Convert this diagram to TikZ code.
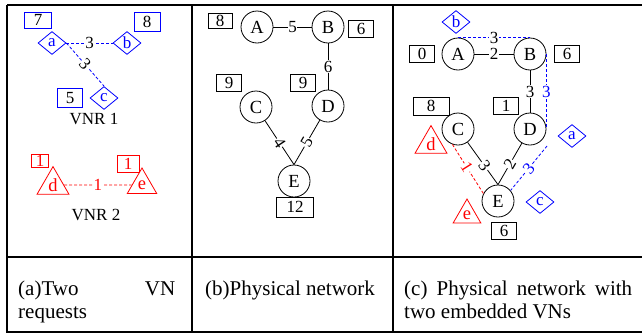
\documentclass[tikz,border=0pt]{standalone}
\usepackage{fontspec}
\setmainfont{Liberation Serif}
\usetikzlibrary{shapes.geometric}
\begin{document}
\begin{tikzpicture}[x=1pt,y=-1pt,
  nf/.style={font=\fontsize{17}{19}\selectfont},
  bf/.style={font=\fontsize{18.5}{20}\selectfont},
  tbl/.style={line width=2.2pt},
  numbox/.style={draw,rectangle,minimum width=25pt,minimum height=17pt,inner sep=1pt,line width=0.8pt,nf},
  pnode/.style={draw,circle,minimum size=32pt,inner sep=0pt,line width=0.8pt,bf},
  vdia/.style={draw=blue,text=blue,diamond,minimum width=28pt,minimum height=23pt,inner sep=0pt,line width=0.8pt,nf},
  vtri/.style={draw=red,text=red,regular polygon,regular polygon sides=3,minimum size=34pt,inner sep=0pt,line width=0.8pt,bf},
  plink/.style={line width=0.8pt},
  blink/.style={draw=blue,line width=0.8pt,dash pattern=on 3pt off 2pt},
  rlink/.style={draw=red,line width=0.8pt,dash pattern=on 3pt off 2pt},
  lbl/.style={fill=white,inner sep=0.6pt,nf},
  captxt/.style={font=\fontsize{21}{23}\selectfont,inner sep=0pt,anchor=north west,align=justify}
]
\useasboundingbox (0,0) rectangle (642,335);
% table
\draw[tbl] (7,5) -- (645,5);
\draw[tbl] (645,332) -- (7,332) -- (7,5);
\draw[tbl] (7,257) -- (645,257);
\draw[tbl] (192,5) -- (192,332);
\draw[tbl] (393,5) -- (393,332);

% panel (a)
\node[numbox,draw=blue,minimum width=27pt,minimum height=16pt] (n7) at (38,20) {7};
\node[vdia] (va) at (52,43) {a};
\node[numbox,draw=blue,minimum width=26pt,minimum height=19pt] (n8a) at (147,22) {8};
\node[vdia] (vb) at (127,43) {b};
\node[vdia] (vc) at (104,98) {c};
\node[numbox,draw=blue,minimum height=19pt] (n5) at (70,98) {5};
\node[nf] (vnr1) at (94,119) {VNR 1};
\node[numbox,draw=red,text=red,minimum width=17pt,minimum height=13pt] (r1) at (40,161) {1};
\node[numbox,draw=red,text=red,minimum width=22pt,minimum height=17pt] (r2) at (128,164) {1};
\node[vtri] (vd) at (53,185) {d};
\node[vtri] (ve) at (142,185) {e};
\node[nf] (vnr2) at (96,215) {VNR 2};
\draw[blink] (va) -- node[lbl]{3} (vb);
\draw[blink] (va.east) -- node[lbl,sloped]{3} (vc.north);
\draw[rlink] (vd) -- node[lbl,text=red]{1} (ve);

% panel (b)
\node[numbox,minimum width=24pt,minimum height=15pt] (b8) at (220,21) {8};
\node[pnode] (pA) at (257,27) {A};
\node[pnode] (pB) at (328,27) {B};
\node[numbox] (b6) at (361,29) {6};
\node[numbox] (b9l) at (229,83) {9};
\node[numbox] (b9r) at (303,83) {9};
\node[pnode] (pC) at (256,107) {C};
\node[pnode] (pD) at (328,106) {D};
\node[pnode] (pE) at (294,181) {E};
\node[numbox,minimum width=37pt,minimum height=20pt] (b12) at (295,207) {12};
\draw[plink] (pA) -- node[lbl]{5} (pB);
\draw[plink] (pB) -- node[lbl]{6} (pD);
\draw[plink] (pC) -- node[lbl,sloped]{4} (pE.north);
\draw[plink] (pD) -- node[lbl,sloped]{5} (pE.north);

% panel (c)
\node[vdia] (cb) at (456,22) {b};
\node[numbox] (c0) at (422,54) {0};
\node[pnode] (cA) at (458,54) {A};
\node[pnode] (cB) at (530,54) {B};
\node[numbox] (c6) at (567,54) {6};
\node[numbox,minimum width=36pt,minimum height=18pt] (c8) at (431,106) {8};
\node[numbox] (c1) at (506,106) {1};
\node[pnode] (cC) at (458,129) {C};
\node[pnode] (cD) at (530,129) {D};
\node[vdia] (ca) at (572,136) {a};
\node[vtri,minimum size=32pt] (cd) at (431,144) {d};
\node[pnode] (cE) at (498,201) {E};
\node[vdia] (cc) at (540,202) {c};
\node[vtri,minimum size=32pt] (ce) at (467,215) {e};
\node[numbox] (c6b) at (504,231) {6};
\coordinate (cbend) at (547,146);
\draw[plink] (cA) -- node[lbl]{2} (cB);
\draw[plink] (cB) -- node[lbl]{3} (cD);
\draw[plink] (cC) -- node[lbl,sloped,pos=0.56]{3} (cE.north);
\draw[plink] (cD) -- node[lbl,sloped]{2} (cE.north);
\draw[blink] (cA.north) -- node[lbl]{3} (cB.north);
\draw[blink] (cB.east) -- node[lbl,text=blue]{3} (cD.east);
\draw[blink] (cbend) -- node[lbl,sloped,text=blue]{3} (cE.40);
\draw[rlink] (cC.250) -- node[lbl,sloped,text=red,pos=0.47]{1} (cE.153);

% captions
\node[captxt,text width=157pt] (capa) at (18,281) {(a)Two VN\linebreak requests};
\node[captxt,text width=180pt] (capb) at (205,281) {(b)Physical network};
\node[captxt,text width=228pt] (capc) at (404,281) {(c) Physical network with\linebreak two embedded VNs};
\end{tikzpicture}
\end{document}
